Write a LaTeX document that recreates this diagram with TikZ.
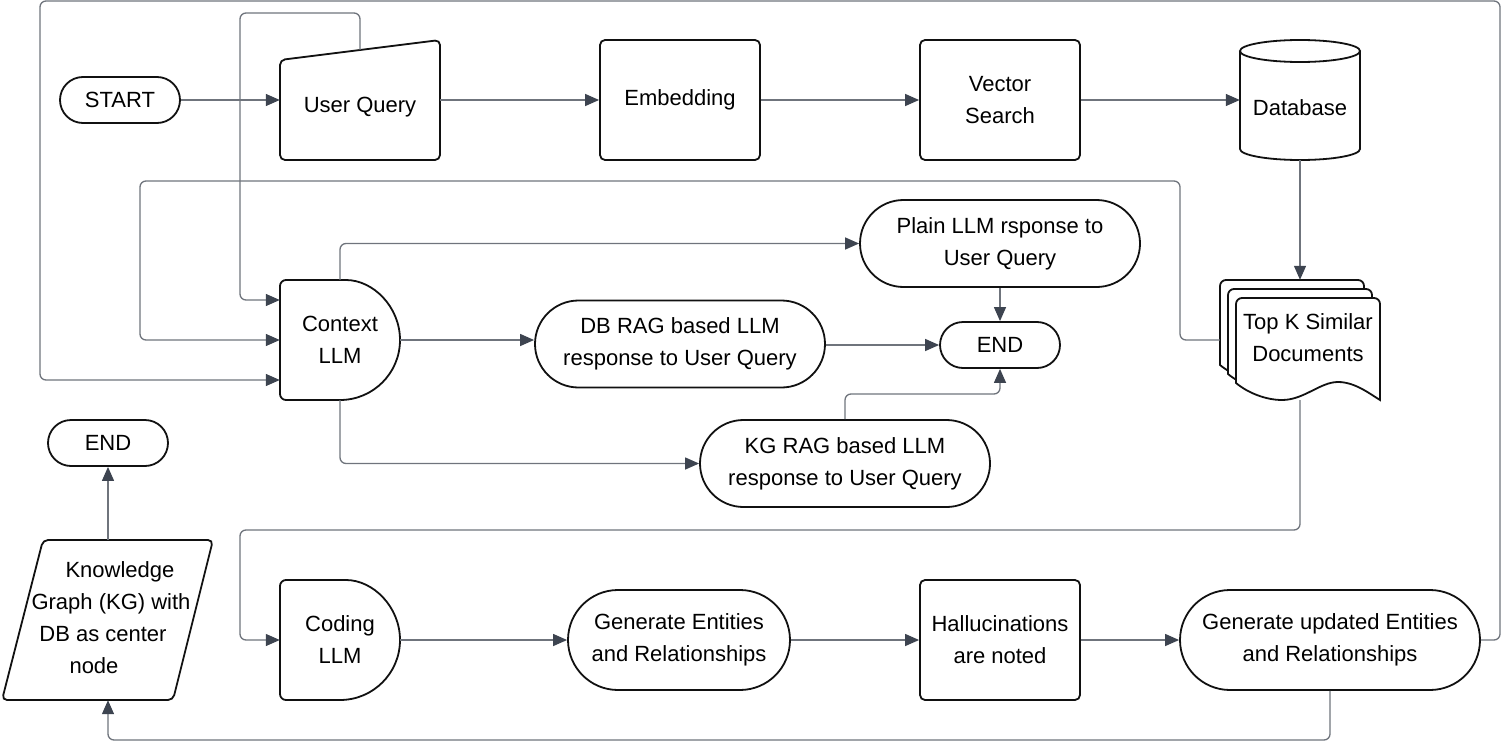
\documentclass[tikz,border=0pt]{standalone}
\usepackage{fontspec}
\setmainfont{Liberation Sans}
\usetikzlibrary{arrows.meta,calc}
\definecolor{linec}{HTML}{6F747C}
\definecolor{arrc}{HTML}{3D4450}
\definecolor{shpc}{HTML}{111111}
\begin{document}
\begin{tikzpicture}[x=1pt,y=-1pt,
 every node/.style={font=\fontsize{22}{32}\selectfont, align=center, inner sep=0pt},
 shp/.style={draw=shpc, line width=1.8pt},
 conn/.style={draw=linec, line width=1.3pt, rounded corners=6pt, -{Triangle[length=14pt,width=12pt,color=arrc]}},
 box/.style={shp, rounded corners=5pt, minimum width=160pt, minimum height=120pt},
 pillS/.style={shp, rounded corners=23pt, minimum width=120pt, minimum height=46pt},
 pillM/.style={shp, rounded corners=43.5pt, minimum height=87pt},
 pillL/.style={shp, rounded corners=50pt, minimum height=100pt},
 area/.style={minimum width=#1, minimum height=120pt}
]
\useasboundingbox (0,0) rectangle (1501,741);

% custom shapes
\draw[shp, rounded corners=5pt] (280,60) -- (440,40) -- (440,160) -- (280,160) -- cycle;
\draw[shp] (1300,51) ellipse [x radius=60, y radius=11];
\draw[shp] (1240,51) -- (1240,149) arc[start angle=180, end angle=0, x radius=60, y radius=11] -- (1360,51);
\foreach \dx/\dy in {1220/280, 1228/289, 1236/298}{
 \draw[shp, fill=white] (\dx,\dy+85) [rounded corners=6pt] -- (\dx,\dy) -- (\dx+144,\dy) -- (\dx+144,\dy+50) [sharp corners] -- (\dx+144,\dy+102)
   .. controls (\dx+134,\dy+96) and (\dx+119,\dy+84) .. (\dx+102,\dy+84)
   .. controls (\dx+84,\dy+84) and (\dx+68,\dy+102) .. (\dx+46,\dy+102)
   .. controls (\dx+30,\dy+102) and (\dx+12,\dy+95) .. (\dx,\dy+85) -- cycle;
}
\draw[shp] (340,280) arc[start angle=-90, end angle=90, radius=60] [rounded corners=6pt] -- (280,400) -- (280,280) -- cycle;
\draw[shp] (340,580) arc[start angle=-90, end angle=90, radius=60] [rounded corners=6pt] -- (280,700) -- (280,580) -- cycle;
\draw[shp, rounded corners=5pt] (43,540) -- (213,540) -- (173,700) -- (2,700) -- cycle;

% nodes
\node[pillS] (start) at (120,100) {START};
\node[area=160pt] (uq) at (360,100) {};
\node (uqtext) at (360,107) {User Query};
\coordinate (uqtop) at (360,50);
\node[box] (emb) at (680,100) {Embedding};
\node[box] (vs) at (1000,100) {Vector\\Search};
\node[area=120pt] (db) at (1300,100) {};
\node (dbtext) at (1300,108) {Database};
\node[area=160pt] (docs) at (1300,340) {};
\node (docstext) at (1308,338) {Top K Similar\\Documents};
\node[area=120pt] (ctx) at (340,340) {Context\\LLM};
\node[pillM, minimum width=280pt] (plain) at (1000,243.5) {Plain LLM rsponse to\\User Query};
\node[pillM, minimum width=290pt] (dbrag) at (680,344) {DB RAG based LLM\\response to User Query};
\node[pillS] (end1) at (1000,345) {END};
\node[pillM, minimum width=290pt] (kgrag) at (845,463.5) {KG RAG based LLM\\response to User Query};
\node[pillS] (end2) at (108,443) {END};
\node[minimum width=172pt, minimum height=160pt] (kg) at (108,620) {};
\node (kgtext) at (107,618) {\rule{26pt}{0pt}Knowledge\\\rule{8pt}{0pt}Graph (KG) with\\DB as center\rule{8pt}{0pt}\\node\rule{26pt}{0pt}};
\node[area=120pt] (coding) at (340,640) {Coding\\LLM};
\node[pillL, minimum width=222pt] (gen) at (679,640) {Generate Entities\\and Relationships};
\node[box] (hall) at (1000,640) {Hallucinations\\are noted};
\node[pillL, minimum width=300pt] (genu) at (1330,640) {Generate updated Entities\\and Relationships};

% connectors
\draw[conn] (start.east) -- (uq.west);
\draw[conn] (uq.east) -- (emb.west);
\draw[conn] (emb.east) -- (vs.west);
\draw[conn] (vs.east) -- (db.west);
\draw[conn] (db.south) -- (docs.north);
\draw[conn] (uqtop) -- (360,13) -- (240,13) -- (240,300) -- ($(ctx.west)+(0,-40)$);
\draw[conn] (docs.west) -- (1180,340) -- (1180,181) -- (140,181) -- (140,340) -- (ctx.west);
\draw[conn] (genu.east) -- (1500,640) -- (1500,1) -- (40,1) -- (40,380) -- ($(ctx.west)+(0,40)$);
\draw[conn] (ctx.north) -- (340,243.5) -- (plain.west);
\draw[conn] (ctx.east) -- (ctx.east -| dbrag.west);
\draw[conn] (ctx.south) -- (340,463.5) -- (kgrag.west);
\draw[conn] (plain.south) -- (end1.north);
\draw[conn] (dbrag.east |- end1.west) -- (end1.west);
\draw[conn] (kgrag.north) -- (845,394) -- (1000,394) -- (end1.south);
\draw[conn] (docs.south) -- (1300,530) -- (240,530) -- (240,640) -- (coding.west);
\draw[conn] (coding.east) -- (gen.west);
\draw[conn] (gen.east) -- (hall.west);
\draw[conn] (hall.east) -- (genu.west);
\draw[conn] (genu.south) -- (1330,740) -- (108,740) -- (kg.south);
\draw[conn] (kg.north) -- (end2.south);
\end{tikzpicture}
\end{document}
